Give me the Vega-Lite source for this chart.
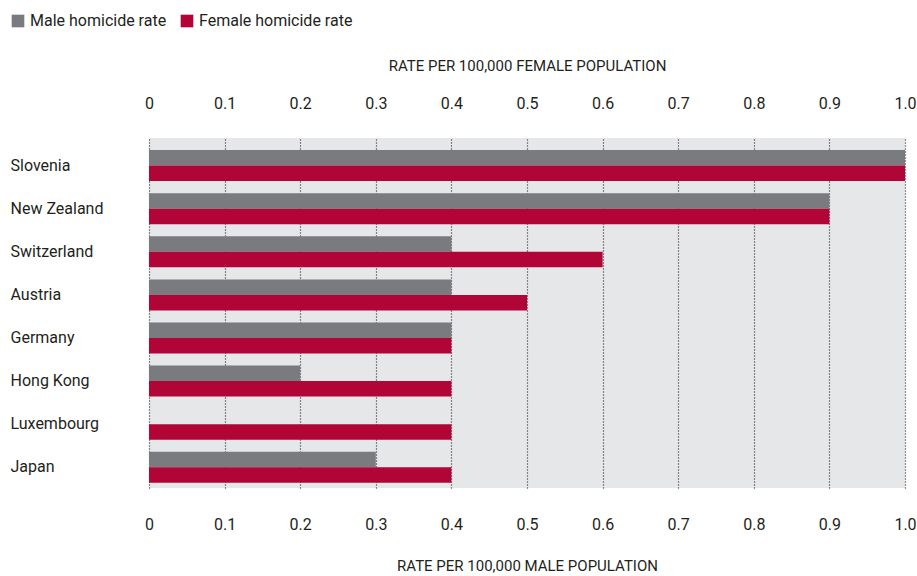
{
  "$schema": "https://vega.github.io/schema/vega-lite/v6.json",
  "width": 756,
  "height": 350,
  "autosize": {"type": "none"},
  "padding": {"left": 149, "top": 138, "right": 12, "bottom": 88},
  "config": {
    "view": {"fill": "#e6e7e9", "stroke": null},
    "font": "Roboto",
    "axis": {"labelColor": "#231f20", "titleColor": "#231f20", "labelFontSize": 16, "titleFontSize": 15, "titleFontWeight": "normal", "labelFont": "Roboto", "titleFont": "Roboto"},
    "legend": {"labelFont": "Roboto"}
  },
  "data": {
    "values": [
      {"country": "Slovenia", "series": "Male homicide rate", "rate": 1.0},
      {"country": "Slovenia", "series": "Female homicide rate", "rate": 1.0},
      {"country": "New Zealand", "series": "Male homicide rate", "rate": 0.9},
      {"country": "New Zealand", "series": "Female homicide rate", "rate": 0.9},
      {"country": "Switzerland", "series": "Male homicide rate", "rate": 0.4},
      {"country": "Switzerland", "series": "Female homicide rate", "rate": 0.6},
      {"country": "Austria", "series": "Male homicide rate", "rate": 0.4},
      {"country": "Austria", "series": "Female homicide rate", "rate": 0.5},
      {"country": "Germany", "series": "Male homicide rate", "rate": 0.4},
      {"country": "Germany", "series": "Female homicide rate", "rate": 0.4},
      {"country": "Hong Kong", "series": "Male homicide rate", "rate": 0.2},
      {"country": "Hong Kong", "series": "Female homicide rate", "rate": 0.4},
      {"country": "Luxembourg", "series": "Male homicide rate", "rate": 0.0},
      {"country": "Luxembourg", "series": "Female homicide rate", "rate": 0.4},
      {"country": "Japan", "series": "Male homicide rate", "rate": 0.3},
      {"country": "Japan", "series": "Female homicide rate", "rate": 0.4}
    ]
  },
  "layer": [
    {
      "mark": {"type": "bar"},
      "encoding": {
        "y": {
          "field": "country",
          "type": "nominal",
          "sort": ["Slovenia", "New Zealand", "Switzerland", "Austria", "Germany", "Hong Kong", "Luxembourg", "Japan"],
          "scale": {"paddingInner": 0.28, "paddingOuter": 0.2, "align": 0.7},
          "axis": {"title": null, "ticks": false, "domain": false, "labelAlign": "left", "labelPadding": 139, "labelFontSize": 16}
        },
        "yOffset": {
          "field": "series",
          "sort": ["Male homicide rate", "Female homicide rate"],
          "scale": {"paddingInner": 0, "paddingOuter": 0}
        },
        "x": {
          "field": "rate",
          "type": "quantitative",
          "scale": {"domain": [0, 1]},
          "axis": {
            "orient": "bottom",
            "title": "RATE PER 100,000 MALE POPULATION",
            "values": [0, 0.1, 0.2, 0.3, 0.4, 0.5, 0.6, 0.7, 0.8, 0.9, 1.0],
            "labelExpr": "datum.value == 0 ? '0' : format(datum.value, '.1f')",
            "labelOverlap": false,
            "ticks": false,
            "domain": false,
            "labelPadding": 28,
            "titlePadding": 26,
            "grid": true,
            "gridColor": "#231f20",
            "gridDash": [1, 2],
            "gridWidth": 1.2,
            "labelFlush": false
          }
        },
        "color": {
          "field": "series",
          "type": "nominal",
          "scale": {"domain": ["Male homicide rate", "Female homicide rate"], "range": ["#7a7b7f", "#b10538"]},
          "legend": {
            "orient": "none",
            "legendX": -139,
            "legendY": -125,
            "direction": "horizontal",
            "title": null,
            "symbolType": "square",
            "symbolSize": 160,
            "symbolOpacity": 1,
            "labelFontSize": 16,
            "labelColor": "#231f20",
            "columnPadding": 12,
            "symbolStrokeWidth": 0
          }
        }
      }
    },
    {
      "mark": {"type": "rule", "opacity": 0},
      "encoding": {
        "x": {
          "field": "rate",
          "type": "quantitative",
          "axis": {
            "orient": "top",
            "title": "RATE PER 100,000 FEMALE POPULATION",
            "values": [0, 0.1, 0.2, 0.3, 0.4, 0.5, 0.6, 0.7, 0.8, 0.9, 1.0],
            "labelExpr": "datum.value == 0 ? '0' : format(datum.value, '.1f')",
            "labelOverlap": false,
            "ticks": false,
            "domain": false,
            "grid": false,
            "labelPadding": 27,
            "titlePadding": 22,
            "labelFlush": false
          }
        }
      }
    }
  ],
  "resolve": {"axis": {"x": "independent"}}
}
